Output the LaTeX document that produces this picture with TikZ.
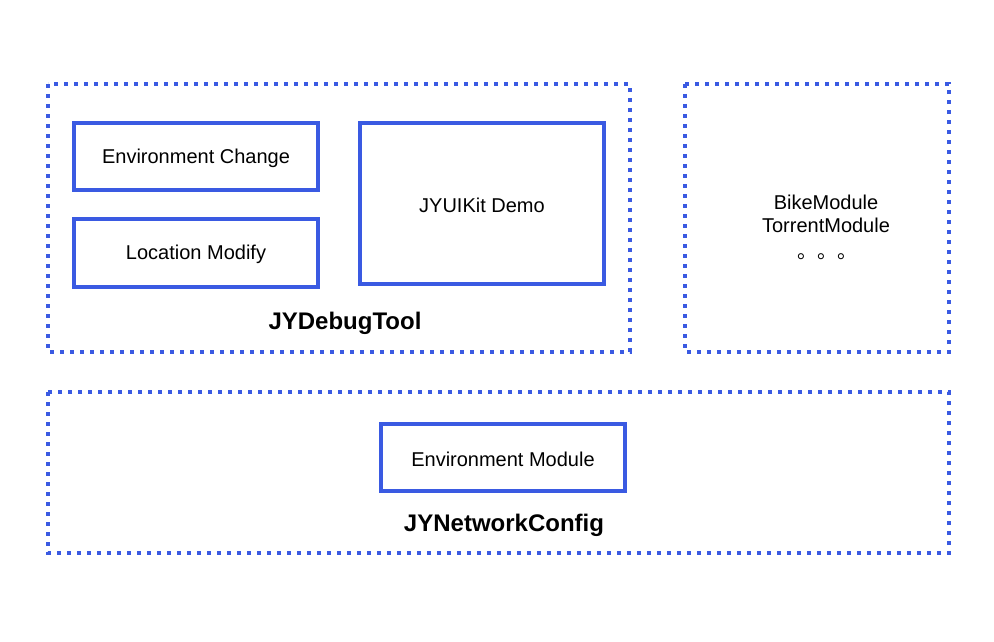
\documentclass[tikz,border=0pt]{standalone}
\usepackage{fontspec}
\setmainfont{Liberation Sans}
\newfontfamily\cjk{Noto Sans CJK SC}
\definecolor{jyblue}{RGB}{58,90,226}
\begin{document}
\begin{tikzpicture}[x=1pt,y=-1pt,
  dotbox/.style={draw=jyblue,line width=4pt,dash pattern=on 4pt off 6pt},
  solidbox/.style={draw=jyblue,line width=4pt},
  lbl/.style={font=\fontsize{20}{24}\selectfont,text=black},
  title/.style={font=\fontsize{24}{28}\selectfont\bfseries,text=black}]
\useasboundingbox[fill=white] (0,0) rectangle (994,642);
% outer dotted containers
\draw[dotbox] (48,84) rectangle (630,352);
\draw[dotbox] (685,84) rectangle (949,352);
\draw[dotbox] (48,392) rectangle (949,553);
% inner boxes
\draw[solidbox] (74,123) rectangle (318,190);
\node[lbl] (envchange) at (196,158) {Environment Change};
\draw[solidbox] (74,219) rectangle (318,287);
\node[lbl] (locmod) at (196,254) {Location Modify};
\draw[solidbox] (360,123) rectangle (604,284);
\node[lbl] (uikit) at (482,205) {JYUIKit Demo};
\draw[solidbox] (381,424) rectangle (625,491);
\node[lbl] (envmod) at (503,459) {Environment Module};
% titles
\node[title] (debug) at (345,323) {JYDebugTool};
\node[title] (netcfg) at (504,525) {JYNetworkConfig};
% right text
\node[lbl] (bike) at (826,202) {BikeModule};
\node[lbl] (torrent) at (826,225) {TorrentModule};
\node[font=\fontsize{20}{24}\selectfont\cjk,anchor=west] (dots) at (794,257) {。。。};
\end{tikzpicture}
\end{document}
